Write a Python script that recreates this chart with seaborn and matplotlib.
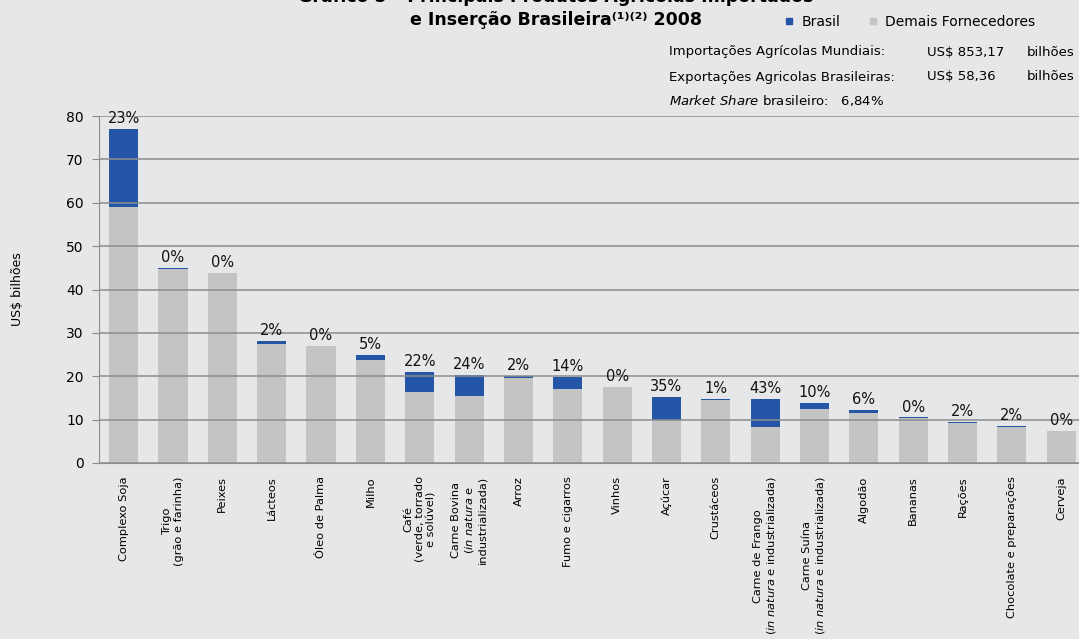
import numpy as np
import pandas as pd
import seaborn as sns
import matplotlib.pyplot as plt
from matplotlib.lines import Line2D

# dados (US$ bilhões, 2008)
produtos = ["Complexo Soja", "Trigo\n(grão e farinha)", "Peixes", "Lácteos", "Óleo de Palma",
            "Milho", "Café\n(verde, torrado\ne solúvel)",
            "Carne Bovina\n($\\it{in\\ natura}$ e\nindustrializada)", "Arroz", "Fumo e cigarros",
            "Vinhos", "Açúcar", "Crustáceos",
            "Carne de Frango\n($\\it{in\\ natura}$ e industrializada)",
            "Carne Suína\n($\\it{in\\ natura}$ e industrializada)",
            "Algodão", "Bananas", "Rações", "Chocolate e preparações", "Cerveja"]
demais = [59.1, 44.8, 43.7, 27.5, 26.9, 23.7, 16.4, 15.4, 19.7, 17.1,
          17.5, 9.9, 14.6, 8.3, 12.4, 11.5, 10.4, 9.3, 8.3, 7.3]
brasil = [17.9, 0.15, 0.1, 0.6, 0.1, 1.2, 4.6, 4.9, 0.4, 2.8,
          0.05, 5.4, 0.15, 6.4, 1.4, 0.7, 0.1, 0.2, 0.2, 0.05]
pct = ["23%", "0%", "0%", "2%", "0%", "5%", "22%", "24%", "2%", "14%",
       "0%", "35%", "1%", "43%", "10%", "6%", "0%", "2%", "2%", "0%"]

df = pd.DataFrame({"produto": produtos, "demais": demais, "brasil": brasil})
df["total"] = df["demais"] + df["brasil"]

bg = "#E6E7E9"
azul = "#2455A7"
cinza = "#C3C4C3"

sns.set_style("white")
plt.rcParams["font.family"] = ["DejaVu Sans"]
plt.rcParams["mathtext.fontset"] = "dejavusans"
plt.rcParams["text.color"] = "black"
plt.rcParams["ytick.color"] = "black"
plt.rcParams["xtick.color"] = "black"
plt.rcParams["axes.labelcolor"] = "black"

fig = plt.figure(figsize=(10.79, 6.39), dpi=100, facecolor=bg)
ax = fig.add_axes([99 / 1079, 1 - 463 / 639, 1 - 99 / 1079, (463 - 116) / 639])
ax.set_facecolor(bg)

sns.barplot(data=df, x="produto", y="total", color=azul, saturation=1, width=0.59,
            linewidth=0, ax=ax, zorder=1)
sns.barplot(data=df, x="produto", y="demais", color=cinza, saturation=1, width=0.59,
            linewidth=0, ax=ax, zorder=1)

for i, t in enumerate(df["total"]):
    ax.annotate(pct[i], (i, t), xytext=(0, 2), textcoords="offset points",
                ha="center", va="bottom", fontsize=10.5, color="#111111", annotation_clip=False)

ax.set_ylim(0, 80)
ax.set_xlim(-0.5, 19.36)
ax.set_yticks(range(0, 81, 10))
ax.yaxis.grid(True, color="#8C8C8C", linewidth=1.1, zorder=3)
ax.set_axisbelow(False)
for s in ["top", "right"]:
    ax.spines[s].set_visible(False)
ax.spines["left"].set_color("#8C8C8C")
ax.spines["bottom"].set_color("#8C8C8C")
ax.tick_params(axis="y", left=True, length=5, color="#8C8C8C", labelcolor="black", labelsize=10, pad=6)
ax.tick_params(axis="x", bottom=False, labelsize=8.2, pad=6)
ax.set_xticks(range(len(produtos)))
ax.set_xticklabels(produtos, rotation=90, ha="center", va="top", multialignment="center")
ax.set_xlabel("")
ax.set_ylabel("US$ bilhões", fontsize=9, labelpad=30)

# titulo
fig.text(0.515, 0.997, "Gráfico 5 – Principais Produtos Agrícolas Importados",
         ha="center", va="baseline", fontsize=12.5, fontweight="bold")
fig.text(0.515, 0.961, "e Inserção Brasileira⁽¹⁾⁽²⁾ 2008",
         ha="center", va="baseline", fontsize=12.5, fontweight="bold")

# legenda
handles = [Line2D([], [], marker="s", color=azul, linestyle="", markersize=5),
           Line2D([], [], marker="s", color=cinza, linestyle="", markersize=5)]
fig.legend(handles, ["Brasil", "Demais Fornecedores"], loc="center left",
           bbox_to_anchor=(770 / 1079, 1 - 22 / 639), ncol=2, frameon=False,
           fontsize=10, handletextpad=0.4, columnspacing=1.8, handlelength=1)

# informacoes
fs = 9.5
y1, y2, y3 = 1 - 52 / 639, 1 - 77 / 639, 1 - 100 / 639
fig.text(669 / 1079, y1, "Importações Agrícolas Mundiais:", fontsize=fs, va="center")
fig.text(927 / 1079, y1, "US\\$ 853,17", fontsize=fs, va="center")
fig.text(1027 / 1079, y1, "bilhões", fontsize=fs, va="center")
fig.text(669 / 1079, y2, "Exportações Agricolas Brasileiras:", fontsize=fs, va="center")
fig.text(927 / 1079, y2, "US\\$ 58,36", fontsize=fs, va="center")
fig.text(1027 / 1079, y2, "bilhões", fontsize=fs, va="center")
fig.text(669 / 1079, y3, "$\\it{Market\\ Share}$ brasileiro:   6,84%", fontsize=fs, va="center")

plt.savefig("out.png", dpi=100, facecolor=bg)
